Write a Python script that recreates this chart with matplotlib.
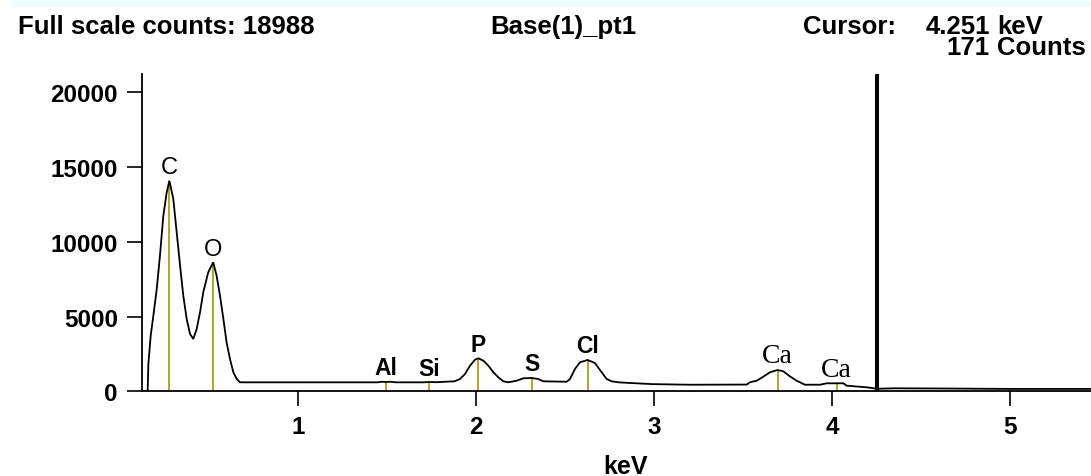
import numpy as np
import matplotlib
matplotlib.use("Agg")
import matplotlib.pyplot as plt
from matplotlib.patches import Rectangle

# ---------------- data ----------------
energy_kev = [0.125, 0.158, 0.162, 0.175, 0.190, 0.209, 0.227, 0.246, 0.265, 0.280,
              0.302, 0.321, 0.340, 0.358, 0.377, 0.396, 0.414, 0.433, 0.452, 0.470,
              0.498, 0.526, 0.545, 0.564, 0.583, 0.601, 0.620, 0.639, 0.658, 0.676,
              0.70, 1.00, 1.30, 1.45, 1.47, 1.49, 1.52, 1.55, 1.70, 1.74,
              1.78, 1.88, 1.911, 1.939, 1.967, 1.995, 2.014, 2.042, 2.070, 2.098,
              2.126, 2.154, 2.182, 2.229, 2.266, 2.313, 2.350, 2.378, 2.51, 2.528,
              2.556, 2.584, 2.627, 2.668, 2.706, 2.734, 2.762, 2.80, 2.86, 2.99,
              3.20, 3.52, 3.538, 3.576, 3.613, 3.650, 3.693, 3.725, 3.762, 3.800,
              3.847, 3.931, 3.969, 4.062, 4.081, 4.193, 4.251, 4.35, 4.576, 5.00,
              5.452]
counts = [0, 0, 1826, 3719, 5057, 6843, 9070, 11746, 13311, 14087,
          12863, 10635, 8401, 6395, 4836, 3833, 3498, 4167, 5284, 6622,
          7960, 8629, 7732, 6395, 4836, 3278, 2161, 1271, 823, 602,
          600, 600, 600, 600, 640, 620, 640, 600, 600, 620,
          610, 669, 823, 1157, 1713, 2114, 2207, 2047, 1713, 1271,
          936, 669, 602, 709, 870, 890, 823, 669, 640, 823,
          1492, 1940, 2094, 1893, 1271, 823, 669, 600, 560, 480,
          440, 450, 602, 709, 977, 1271, 1425, 1338, 1003, 709,
          441, 441, 535, 535, 375, 268, 171, 200, 190, 160,
          160]

element_names = ["C", "O", "Al", "Si", "P", "S", "Cl", "Ca", "Ca"]
element_kev = [0.280, 0.526, 1.494, 1.739, 2.014, 2.313, 2.627, 3.693, 4.025]

y_ticks = [0, 5000, 10000, 15000, 20000]
x_ticks = [1, 2, 3, 4, 5]

cursor_kev = 4.251
cursor_counts = 171
full_scale = 18988
title = "Base(1)_pt1"

# ---------------- styles ----------------
W, H = 1091, 477
fig = plt.figure(figsize=(W / 100, H / 100), dpi=100)
fig.patch.set_facecolor("white")

# pale cyan strip at the very top
fig.patches.append(Rectangle((12 / W, 1 - 8 / H), 1 - 12 / W, 8 / H,
                             transform=fig.transFigure, facecolor="#ebffff",
                             edgecolor="none", zorder=0))

ax_left, ax_right = 141.7, 1091
ax_top, ax_bottom = 75, 392.3
ax = fig.add_axes([ax_left / W, 1 - ax_bottom / H,
                   (ax_right - ax_left) / W, (ax_bottom - ax_top) / H])
ax.set_facecolor("none")

ax.set_xlim(0.1246, 5.452)
ax.set_ylim(0, 21224)

olive = "#9c9c00"
line_tops = np.interp(element_kev, energy_kev, counts)
ax.vlines(element_kev, 0, line_tops, color=olive, lw=1.2, zorder=2)
ax.plot(energy_kev, counts, color="black", lw=1.3, zorder=3, solid_joinstyle="miter")

# cursor
ax.axvline(cursor_kev, color="black", lw=2.9, zorder=4)

# element labels
sans = "Liberation Sans"
serif = "Liberation Serif"
label_style = {
    "C": dict(family=sans, weight="normal", size=17),
    "O": dict(family=sans, weight="normal", size=17),
    "Ca": dict(family=serif, weight="normal", size=20),
}
default_label_style = dict(family=sans, weight="bold", size=16.5)
for name, e, top in zip(element_names, element_kev, line_tops):
    st = label_style.get(name, default_label_style)
    ax.annotate(name, (e, top), xytext=(0, 5.4), textcoords="offset points",
                ha="center", va="baseline", color="black", **st)

# axes styling
for s in ["top", "right"]:
    ax.spines[s].set_visible(False)
for s in ["left", "bottom"]:
    ax.spines[s].set_linewidth(1.3)
ax.set_yticks(y_ticks)
ax.set_yticklabels([str(v) for v in y_ticks])
ax.set_xticks(x_ticks)
ax.set_xticklabels([str(v) for v in x_ticks])
ax.tick_params(axis="both", direction="out", length=10.6, width=1.2, pad=6.5,
               labelsize=17.5, colors="black")
for lbl in ax.get_xticklabels() + ax.get_yticklabels():
    lbl.set_fontfamily(sans)
    lbl.set_fontweight("bold")

ax.set_xlabel("keV", fontfamily=sans, fontweight="bold", fontsize=18)
ax.xaxis.set_label_coords((625.5 - ax_left) / (ax_right - ax_left),
                          (ax_bottom - 455) / (ax_bottom - ax_top))

# header texts
hdr = dict(family=sans, weight="bold", size=18.5, va="baseline", color="black")
fig.text(18 / W, 1 - 34 / H, f"Full scale counts: {full_scale}", ha="left", **hdr)
fig.text(563 / W, 1 - 34 / H, title, ha="center", **hdr)
fig.text(803 / W, 1 - 34 / H, "Cursor:", ha="left", **hdr)
# two-line cursor readout; va="baseline" anchors the last line (y = 55 px)
fig.text(990 / W, 1 - 55 / H, f"{cursor_kev:.3f}\n{cursor_counts}", ha="right",
         multialignment="right", linespacing=0.83, **hdr)
fig.text(997 / W, 1 - 55 / H, "keV\nCounts", ha="left",
         multialignment="left", linespacing=0.83, **hdr)

fig.savefig("out.png", dpi=100)
